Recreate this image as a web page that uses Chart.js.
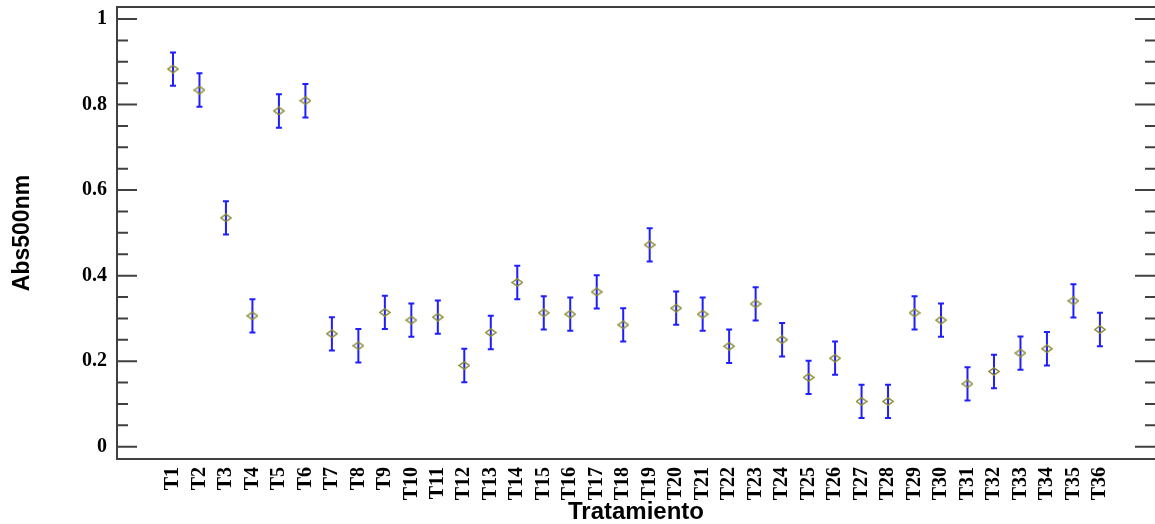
<!DOCTYPE html>
<html lang="es">
<head>
<meta charset="UTF-8">
<title>Abs500nm por Tratamiento</title>
<script src="https://cdn.jsdelivr.net/npm/chart.js"></script>
<style>
    html, body { margin: 0; padding: 0; background: #fff; }
    #wrap { width: 1155px; height: 524px; }
</style>
</head>
<body>
<div id="wrap"><canvas id="absChart" width="1155" height="524"></canvas></div>
<script>
    // Tratamientos (eje X)
    const tratamientos = ['T1', 'T2', 'T3', 'T4', 'T5', 'T6', 'T7', 'T8', 'T9', 'T10', 'T11', 'T12',
        'T13', 'T14', 'T15', 'T16', 'T17', 'T18', 'T19', 'T20', 'T21', 'T22', 'T23', 'T24',
        'T25', 'T26', 'T27', 'T28', 'T29', 'T30', 'T31', 'T32', 'T33', 'T34', 'T35', 'T36'];

    // Medias de Abs500nm
    const medias = [0.883, 0.834, 0.535, 0.306, 0.785, 0.809, 0.264, 0.236, 0.314, 0.296, 0.303, 0.190,
        0.267, 0.384, 0.313, 0.310, 0.362, 0.285, 0.472, 0.324, 0.310, 0.235, 0.334, 0.250,
        0.162, 0.207, 0.106, 0.106, 0.313, 0.296, 0.147, 0.176, 0.219, 0.229, 0.341, 0.274];

    // Semiamplitud del intervalo (igual para todos)
    const intervalo = 0.039;

    // Marcas del eje Y
    const yTicks = [0, 0.2, 0.4, 0.6, 0.8, 1];
    const yMinorTicks = [0.05, 0.1, 0.15, 0.25, 0.3, 0.35, 0.45, 0.5, 0.55, 0.65, 0.7, 0.75, 0.85, 0.9, 0.95];

    const colorEje = '#404040';

    // Rombo hueco como marcador
    const rombo = document.createElement('canvas');
    rombo.width = 12;
    rombo.height = 9;
    (function () {
        const c = rombo.getContext('2d');
        c.strokeStyle = '#8a8a2a';
        c.lineWidth = 1.5;
        c.beginPath();
        c.moveTo(0.8, 4.5);
        c.lineTo(6, 0.8);
        c.lineTo(11.2, 4.5);
        c.lineTo(6, 8.2);
        c.closePath();
        c.stroke();
    })();

    // Barras de error
    const barrasError = {
        id: 'barrasError',
        beforeDatasetsDraw(chart) {
            const ctx = chart.ctx;
            const xs = chart.scales.x, ys = chart.scales.y;
            ctx.save();
            ctx.strokeStyle = '#1e1eff';
            ctx.lineWidth = 2;
            medias.forEach((m, i) => {
                const x = xs.getPixelForValue(i + 1);
                const y1 = ys.getPixelForValue(m + intervalo);
                const y2 = ys.getPixelForValue(m - intervalo);
                ctx.beginPath();
                ctx.moveTo(x, y1); ctx.lineTo(x, y2);
                ctx.moveTo(x - 3, y1); ctx.lineTo(x + 3, y1);
                ctx.moveTo(x - 3, y2); ctx.lineTo(x + 3, y2);
                ctx.stroke();
            });
            ctx.restore();
        }
    };

    // Marco superior y marcas interiores del eje Y (izquierda y derecha)
    const marco = {
        id: 'marco',
        afterDraw(chart) {
            const ctx = chart.ctx;
            const a = chart.chartArea;
            const ys = chart.scales.y;
            ctx.save();
            ctx.strokeStyle = colorEje;
            ctx.lineWidth = 2;
            ctx.beginPath();
            ctx.moveTo(a.left, a.top);
            ctx.lineTo(a.right, a.top);
            yTicks.forEach(v => {
                const y = ys.getPixelForValue(v);
                ctx.moveTo(a.left, y); ctx.lineTo(a.left + 20, y);
                ctx.moveTo(a.right - 20, y); ctx.lineTo(a.right, y);
            });
            yMinorTicks.forEach(v => {
                const y = ys.getPixelForValue(v);
                ctx.moveTo(a.left, y); ctx.lineTo(a.left + 11, y);
                ctx.moveTo(a.right - 10, y); ctx.lineTo(a.right, y);
            });
            ctx.stroke();
            ctx.restore();
        }
    };

    const fuenteTicks = { family: '"Liberation Serif", "Times New Roman", serif', weight: 'bold', size: 20 };
    const fuenteTitulo = { family: '"Liberation Sans", Arial, sans-serif', weight: 'bold', size: 24, lineHeight: 1 };

    new Chart(document.getElementById('absChart'), {
        type: 'scatter',
        data: {
            datasets: [{
                data: medias.map((m, i) => ({ x: i + 1, y: m })),
                pointStyle: rombo,
                showLine: false
            }]
        },
        options: {
            responsive: false,
            animation: false,
            layout: { autoPadding: false, padding: { top: 7, right: 0, left: 0, bottom: 0 } },
            plugins: { legend: { display: false }, tooltip: { enabled: false } },
            scales: {
                x: {
                    type: 'linear',
                    min: -1.114,
                    max: 38.08,
                    grid: { display: false, drawTicks: false },
                    border: { display: true, color: colorEje, width: 2 },
                    afterBuildTicks: s => { s.ticks = tratamientos.map((t, i) => ({ value: i + 1 })); },
                    afterFit: s => { s.height = 65; s.paddingLeft = 0; s.paddingRight = 0; },
                    ticks: {
                        autoSkip: false,
                        minRotation: 90,
                        maxRotation: 90,
                        padding: 8,
                        color: '#000',
                        font: fuenteTicks,
                        callback: v => tratamientos[v - 1] || ''
                    },
                    title: { display: true, text: 'Tratamiento', color: '#000', font: fuenteTitulo, padding: 0 }
                },
                y: {
                    min: -0.0287,
                    max: 1.0281,
                    grid: { display: false, drawTicks: false },
                    border: { display: true, color: colorEje, width: 2 },
                    afterBuildTicks: s => { s.ticks = yTicks.map(v => ({ value: v })); },
                    afterFit: s => { s.width = 117; s.paddingTop = 0; s.paddingBottom = 0; },
                    ticks: {
                        padding: 10,
                        color: '#000',
                        font: fuenteTicks,
                        callback: v => String(v)
                    },
                    title: {
                        display: true, text: 'Abs500nm', color: '#000',
                        font: { family: '"Liberation Sans", Arial, sans-serif', weight: 'bold', size: 23, lineHeight: 1 },
                        padding: { top: 11, bottom: 0 }
                    }
                }
            }
        },
        plugins: [barrasError, marco]
    });
</script>
</body>
</html>
